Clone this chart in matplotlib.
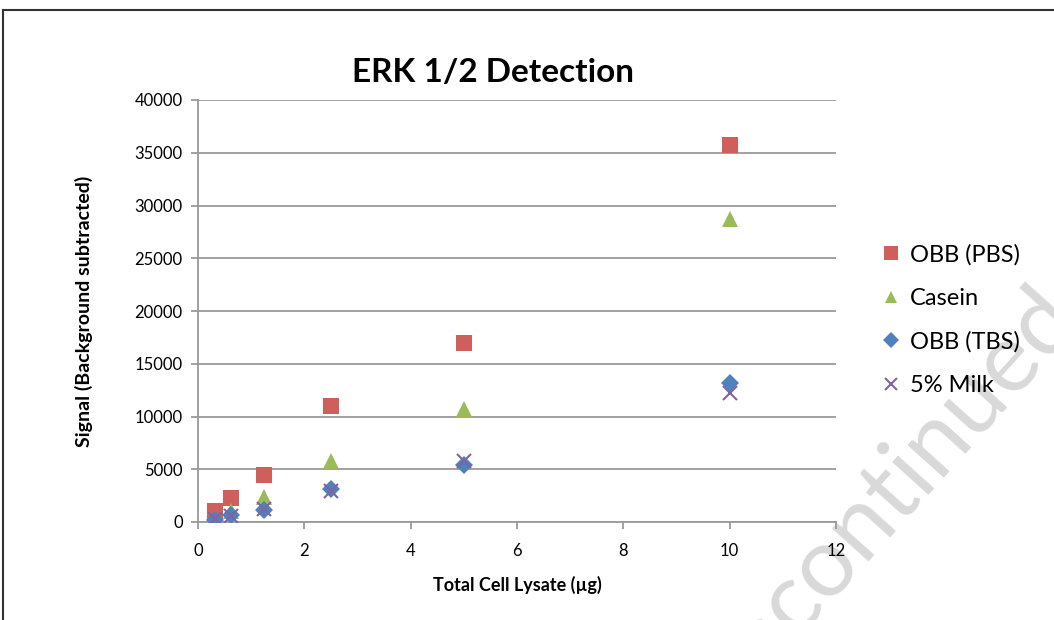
import matplotlib.pyplot as plt
from matplotlib.lines import Line2D

plt.rcParams['font.family'] = ['Lato', 'DejaVu Sans']

# data
lysate_ug = [0.3125, 0.625, 1.25, 2.5, 5, 10]
obb_pbs = [1000, 2250, 4450, 11000, 17000, 35700]
casein = [300, 1000, 2400, 5800, 10700, 28700]
obb_tbs = [200, 700, 1150, 3100, 5400, 13200]
milk_5pct = [250, 600, 1200, 2900, 5800, 12200]

series = [
    ('OBB (PBS)', obb_pbs, 's', '#CF5F5B', 12),
    ('Casein', casein, '^', '#9BBB59', 11),
    ('OBB (TBS)', obb_tbs, 'D', '#4F81BD', 9),
    ('5% Milk', milk_5pct, 'x', '#8064A2', 10),
]

W, H = 1054, 620
fig = plt.figure(figsize=(W / 100, H / 100), dpi=100)

# outer chart frame (top and left edges visible)
fig.add_artist(Line2D([3 / W, 3 / W], [0, 1 - 10 / H], color='#333333', lw=1.5))
fig.add_artist(Line2D([3 / W, 1], [1 - 10 / H, 1 - 10 / H], color='#333333', lw=1.5))

# watermark behind everything, split so the visible part can be anchored
wm = dict(rotation=48, rotation_mode='anchor', va='baseline', fontsize=70,
          color='#D9D9D9', zorder=-1)
wx, wy = 796 / W, 1 - 638 / H
fig.text(wx, wy, 'Dis', ha='right', **wm)
fig.text(wx, wy, 'continued', ha='left', **wm)

ax = fig.add_axes([198 / W, (H - 522) / H, (836 - 198) / W, (522 - 100) / H])
ax.patch.set_alpha(0)

for name, vals, mk, col, ms in series:
    if mk == 'x':
        ax.plot(lysate_ug, vals, linestyle='none', marker=mk, color=col,
                markersize=ms, markeredgewidth=1.5, label=name, zorder=3)
    else:
        ax.plot(lysate_ug, vals, linestyle='none', marker=mk, color=col,
                markersize=ms, markeredgewidth=0, label=name, zorder=3)

ax.set_xlim(0, 12)
ax.set_ylim(0, 40000)
ax.set_xticks(range(0, 13, 2))
ax.set_yticks(range(0, 40001, 5000))
ax.yaxis.grid(True, color='#9A9A9A', linewidth=1.3)
ax.set_axisbelow(True)

for s in ['top', 'right']:
    ax.spines[s].set_visible(False)
for s in ['left', 'bottom']:
    ax.spines[s].set_color('#9A9A9A')
    ax.spines[s].set_linewidth(1.3)
ax.tick_params(direction='out', length=5, width=1.3, color='#9A9A9A',
               labelsize=12, pad=6)
ax.tick_params(axis='x', pad=10)

ax.set_xlabel('Total Cell Lysate (µg)', fontsize=13, fontweight='bold', labelpad=12)
ax.set_ylabel('Signal (Background subtracted)', fontsize=14, fontweight='bold', labelpad=30)

fig.text(493 / W, 1 - 72 / H, 'ERK 1/2 Detection', ha='center', va='center',
         fontsize=24, fontweight='bold')

ax.legend(loc='center left', bbox_to_anchor=(856 / W, 1 - 320 / H),
          bbox_transform=fig.transFigure, frameon=False, fontsize=17,
          handletextpad=0.2, labelspacing=0.95, handlelength=1.2, markerscale=0.85)

fig.savefig('out.png', dpi=100)
